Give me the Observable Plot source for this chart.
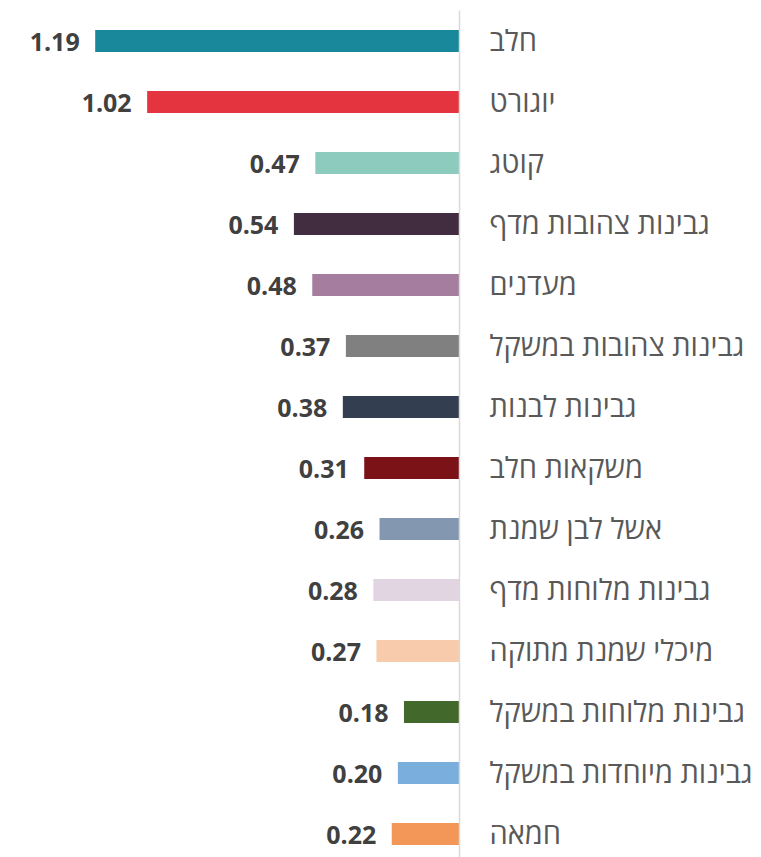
<!DOCTYPE html>
<html>
<head>
<meta charset="utf-8">
<script src="https://cdn.jsdelivr.net/npm/d3@7"></script>
<script src="https://cdn.jsdelivr.net/npm/@observablehq/plot@0.6"></script>
<style>
  html, body { margin: 0; padding: 0; background: #fff; }
  #chart svg { display: block; }
</style>
</head>
<body>
<div id="chart"></div>
<script>
const categories = ["חלב","יוגורט","קוטג","גבינות צהובות מדף","מעדנים","גבינות צהובות במשקל","גבינות לבנות","משקאות חלב","אשל לבן שמנת","גבינות מלוחות מדף","מיכלי שמנת מתוקה","גבינות מלוחות במשקל","גבינות מיוחדות במשקל","חמאה"];
const values = [1.19,1.02,0.47,0.54,0.48,0.37,0.38,0.31,0.26,0.28,0.27,0.18,0.20,0.22];
const colors = ["#1a889b","#e3343f","#8ecbbf","#412c40","#a47d9f","#808080","#333e50","#7b1218","#8497b0","#e0d5e0","#f7cbac","#43682b","#7aaedd","#f29758"];

const data = categories.map((c, i) => ({category: c, value: values[i], color: colors[i]}));

const chart = Plot.plot({
  width: 761,
  height: 857,
  marginLeft: 31,
  marginRight: 302,
  marginTop: 10.5,
  marginBottom: -7.5,
  x: {domain: [0, 1.4], reverse: true, axis: null},
  y: {domain: categories, paddingInner: 0.64, paddingOuter: 0.32, label: null},
  style: {fontFamily: "'Open Sans', 'Noto Sans', sans-serif", background: "#fff"},
  marks: [
    Plot.barX(data, {y: "category", x: "value", fill: "color"}),
    Plot.ruleX([0], {stroke: "#d9d9d9", strokeWidth: 1.5}),
    Plot.text(data, {y: "category", x: "value", text: d => d.value.toFixed(2), textAnchor: "end", dx: -16, dy: 1, fontSize: 25, fontWeight: "bold", fill: "#404040"}),
    Plot.axisY({anchor: "right", tickSize: 0, tickPadding: 30, fontSize: 29, fill: "#595959", label: null})
  ]
});
document.getElementById("chart").appendChild(chart);
</script>
</body>
</html>
